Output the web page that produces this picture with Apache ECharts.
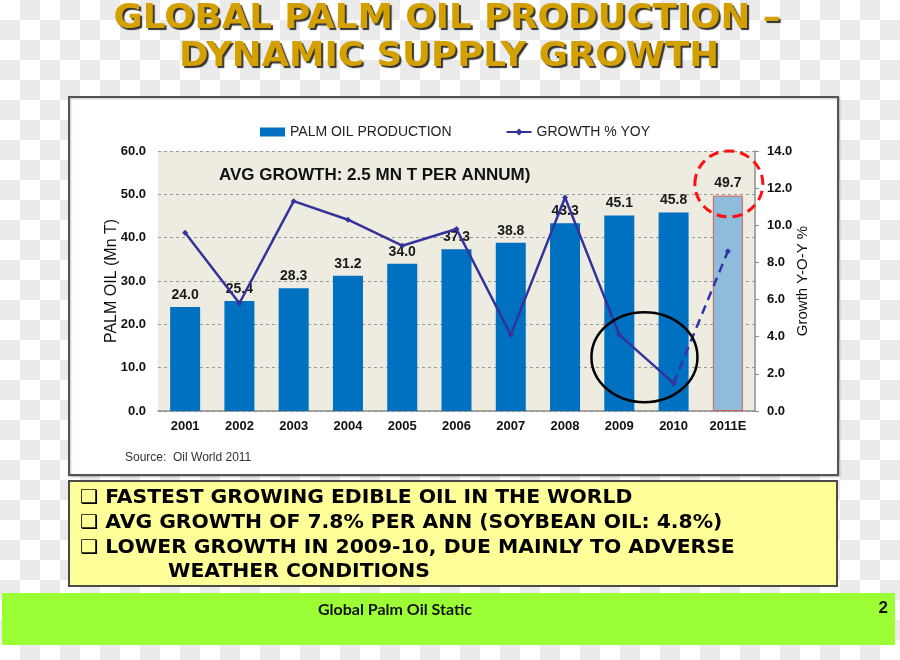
<!DOCTYPE html>
<html><head><meta charset="utf-8">
<script src="https://cdn.jsdelivr.net/npm/echarts@6/dist/echarts.min.js"></script>
<style>
html,body{margin:0;padding:0;}
#main{width:900px;height:660px;background:repeating-conic-gradient(#ebebeb 0 25%, #ffffff 0 50%) 0 0/40px 40px;}
</style></head><body><div id="main"></div>
<script>
const categories = ['2001','2002','2003','2004','2005','2006','2007','2008','2009','2010','2011E'];
const production = [24.0, 25.4, 28.3, 31.2, 34.0, 37.3, 38.8, 43.3, 45.1, 45.8, 49.7];
const growth = [9.6, 5.8, 11.3, 10.3, 8.9, 9.8, 4.1, 11.5, 4.1, 1.5, 8.6];
const leftAxis = {min: 0, max: 60, interval: 10};
const rightAxis = {min: 0, max: 14, interval: 2};
const bullets = [
  '\u2751 FASTEST GROWING EDIBLE OIL IN THE WORLD',
  '\u2751 AVG GROWTH OF 7.8% PER ANN (SOYBEAN OIL: 4.8%)',
  '\u2751 LOWER GROWTH IN 2009-10, DUE MAINLY TO ADVERSE',
  'WEATHER CONDITIONS'
];

const NARROW = "'Liberation Sans Narrow','Arial Narrow','Liberation Sans',sans-serif";
const estimateIndex = categories.length - 1;

const barData = production.map((v, i) => i === estimateIndex
  ? {value: v, itemStyle: {color: '#8FBCDB', borderColor: '#D0605A', borderWidth: 1}}
  : v);
const growthActual = growth.map((v, i) => i < estimateIndex ? v : '-');
const growthEstimate = growth.map((v, i) => i >= estimateIndex - 1 ? v : '-');

const chart = echarts.init(document.getElementById('main'), null, {renderer: 'canvas'});

function staticGraphics() {
  const titleFont = "bold 33px 'DejaVu Sans',sans-serif";
  const els = [
    {id: 'box', type: 'rect', z: -100, shape: {x: 69, y: 97, width: 769, height: 378},
     style: {fill: '#ffffff', stroke: '#555', lineWidth: 2, shadowColor: 'rgba(0,0,0,0.25)', shadowOffsetX: 1, shadowOffsetY: 1, shadowBlur: 2}},
    {id: 'ybox', type: 'rect', z: -100, shape: {x: 69, y: 481, width: 768, height: 105},
     style: {fill: '#FFFF99', stroke: '#4a4a4a', lineWidth: 2}},
    {id: 'gbar', type: 'rect', z: -100, shape: {x: 2, y: 593, width: 893, height: 52},
     style: {fill: '#9CFF36'}},
    {id: 't1', type: 'text', x: 447, y: 19, scaleX: 1.08, style: {text: 'GLOBAL PALM OIL PRODUCTION \u2013', fill: '#D4A000',
      font: titleFont, align: 'center', verticalAlign: 'middle',
      textShadowColor: '#333', textShadowOffsetX: 2, textShadowOffsetY: 2, textShadowBlur: 1}},
    {id: 't2', type: 'text', x: 449, y: 57, scaleX: 1.08, style: {text: 'DYNAMIC SUPPLY GROWTH', fill: '#D4A000',
      font: titleFont, align: 'center', verticalAlign: 'middle',
      textShadowColor: '#333', textShadowOffsetX: 2, textShadowOffsetY: 2, textShadowBlur: 1}},
    {id: 'avg', type: 'text', x: 219, y: 175, z: 10, style: {text: 'AVG GROWTH: 2.5 MN T PER ANNUM)', fill: '#111',
      font: "bold 17px " + NARROW, align: 'left', verticalAlign: 'middle'}},
    {id: 'src', type: 'text', x: 125, y: 458, style: {text: 'Source:  Oil World 2011', fill: '#333',
      font: "12px " + NARROW, align: 'left', verticalAlign: 'middle'}},
    {id: 'foot', type: 'text', x: 395, y: 610, style: {text: 'Global Palm Oil Static', fill: '#111',
      font: "bold 16px Lato,sans-serif", align: 'center', verticalAlign: 'middle',
      textShadowColor: '#aaa', textShadowOffsetX: 1, textShadowOffsetY: 1}},
    {id: 'page', type: 'text', x: 888, y: 608, style: {text: '2', fill: '#111',
      font: "bold 17px 'Liberation Sans',sans-serif", align: 'right', verticalAlign: 'middle'}}
  ];
  const ys = [498, 523, 548, 572];
  bullets.forEach((t, i) => {
    els.push({id: 'b' + i, type: 'text', x: i === 3 ? 168 : 80, y: ys[i], scaleX: 1.07, style: {text: t, fill: '#000',
      font: "bold 19px 'DejaVu Sans',sans-serif", align: 'left', verticalAlign: 'middle'}});
  });
  return els;
}

const option = {
  animation: false,
  legend: {
    top: 120, left: 255, itemWidth: 25, itemHeight: 9, itemGap: 54,
    textStyle: {fontSize: 14, color: '#222', fontFamily: NARROW},
    data: [{name: 'PALM OIL PRODUCTION', icon: 'rect'}, {name: 'GROWTH % YOY'}]
  },
  grid: {left: 158, right: 145, top: 151, bottom: 249, show: true, backgroundColor: '#EEECE1', borderWidth: 0},
  xAxis: {
    type: 'category', data: categories,
    axisLine: {show: true, lineStyle: {color: '#8c8c8c', width: 1.5}},
    axisTick: {show: false},
    axisLabel: {fontSize: 13, fontWeight: 'bold', color: '#111', margin: 9, fontFamily: NARROW}
  },
  yAxis: [
    {type: 'value', min: leftAxis.min, max: leftAxis.max, interval: leftAxis.interval,
     name: 'PALM OIL (Mn T)', nameLocation: 'middle', nameRotate: 90, nameGap: 38, nameMoveOverlap: false,
     nameTextStyle: {fontSize: 16, color: '#111', fontFamily: "'Liberation Sans',sans-serif"},
     axisLine: {show: false}, axisTick: {show: false},
     splitLine: {show: true, lineStyle: {color: '#999', type: [3, 3], width: 1}},
     axisLabel: {formatter: v => v.toFixed(1), fontSize: 13, fontWeight: 'bold', color: '#111', margin: 12, fontFamily: NARROW}},
    {type: 'value', min: rightAxis.min, max: rightAxis.max, interval: rightAxis.interval, position: 'right',
     name: 'Growth Y-O-Y %', nameLocation: 'middle', nameRotate: 90, nameGap: 40, nameMoveOverlap: false,
     nameTextStyle: {fontSize: 15, color: '#111', fontFamily: "'Liberation Sans',sans-serif"},
     axisLine: {show: true, lineStyle: {color: '#8c8c8c', width: 1.5}},
     axisTick: {show: true, length: 4, lineStyle: {color: '#8c8c8c'}},
     splitLine: {show: false},
     axisLabel: {formatter: v => v.toFixed(1), fontSize: 13, fontWeight: 'bold', color: '#111', margin: 12, fontFamily: NARROW}}
  ],
  series: [
    {name: 'PALM OIL PRODUCTION', type: 'bar', yAxisIndex: 0, data: barData, barWidth: 30,
     itemStyle: {color: '#0070C0'},
     label: {show: true, position: 'top', distance: 5, formatter: p => p.value.toFixed(1),
       fontSize: 14, fontWeight: 'bold', color: '#1a1a1a', fontFamily: NARROW}},
    {name: 'GROWTH % YOY', type: 'line', yAxisIndex: 1, data: growthActual, z: 5,
     color: '#333399', lineStyle: {color: '#333399', width: 2.5},
     symbol: 'diamond', symbolSize: 6, itemStyle: {color: '#333399'}},
    {name: 'GROWTH ESTIMATE', type: 'line', yAxisIndex: 1, data: growthEstimate, z: 5,
     lineStyle: {color: '#3333AA', width: 2.5, type: [9, 6]},
     symbol: 'diamond', symbolSize: 6, itemStyle: {color: '#3333AA'}}
  ],
  graphic: {elements: staticGraphics()}
};
chart.setOption(option);

// annotation ellipses placed through the chart's own scales
const x09 = chart.convertToPixel({xAxisIndex: 0}, categories[8]);
const x10 = chart.convertToPixel({xAxisIndex: 0}, categories[9]);
const xE = chart.convertToPixel({xAxisIndex: 0}, categories[10]);
const yLow = chart.convertToPixel({yAxisIndex: 1}, 2.9);
const yEst = chart.convertToPixel({yAxisIndex: 0}, 52.4);
const els = staticGraphics();
els.push({id: 'ell1', type: 'ellipse', z: 20, shape: {cx: (x09 + x10) / 2 - 2, cy: yLow, rx: 53, ry: 45},
  style: {fill: 'none', stroke: '#000', lineWidth: 2.5}});
els.push({id: 'ell2', type: 'ellipse', z: 20, shape: {cx: xE + 1, cy: yEst, rx: 34, ry: 33},
  style: {fill: 'none', stroke: '#FF1010', lineWidth: 3, lineDash: [10, 6]}});
chart.setOption({graphic: {elements: els}});
</script></body></html>
